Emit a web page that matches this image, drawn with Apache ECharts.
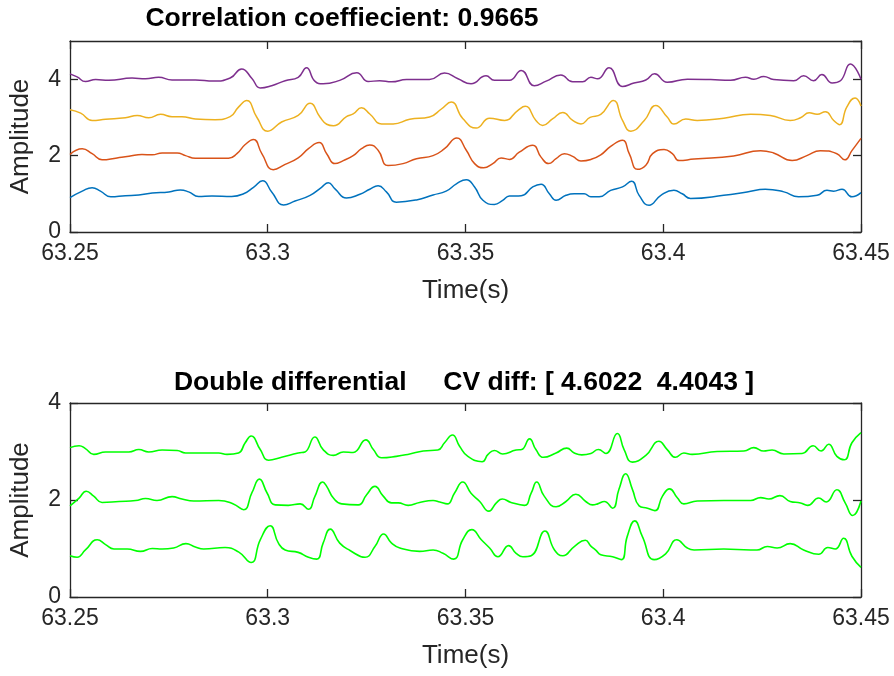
<!DOCTYPE html>
<html>
<head>
<meta charset="utf-8">
<script src="https://cdn.jsdelivr.net/npm/echarts@6/dist/echarts.min.js"></script>
<style>
  html, body { margin: 0; padding: 0; background: #fff; }
  #chart { width: 894px; height: 676px; }
</style>
</head>
<body>
<div id="chart"></div>
<script>
// time axis
const t0 = 63.25            // start of window (s); offsets below are in ms
const tEnd = 63.45
const tStep = 0.05

const topTitle = 'Correlation coeffiecient: 0.9665'
const bottomTitle = 'Double differential     CV diff: [ 4.6022  4.4043 ]'

// top panel: [ms offset, amplitude]
const blueTop = [[0,0.90],[3.1,1.07],[5.6,1.16],[7.7,1.07],[10.3,0.92],[14.0,0.95],[17.4,0.97],[20.8,1.02],[25.0,1.05],[27.9,1.10],[30.0,1.05],[32.5,0.93],[35.9,0.94],[40.9,0.93],[43.9,1.00],[46.4,1.17],[48.7,1.34],[51.0,1.05],[54.0,0.71],[56.9,0.81],[60.7,0.96],[63.6,1.17],[65.3,1.29],[67.0,1.13],[69.9,0.89],[73.3,0.99],[75.8,1.12],[77.9,1.21],[80.0,1.05],[82.5,0.78],[87.6,0.84],[91.8,0.97],[95.1,1.07],[97.7,1.26],[100.2,1.37],[102.3,1.18],[104.4,0.83],[107.3,0.72],[109.4,0.83],[111.1,0.94],[114.1,0.95],[117.0,1.18],[119.1,1.25],[121.2,1.00],[122.9,0.83],[125.4,0.96],[127.5,1.00],[130.0,1.00],[131.7,0.92],[133.8,0.92],[136.7,1.09],[139.7,1.18],[142.0,1.33],[143.9,0.96],[146.4,0.70],[149.4,0.96],[152.7,1.09],[154.8,1.00],[156.9,0.88],[165.3,0.96],[171.2,1.05],[175.8,1.12],[180.5,1.05],[184.2,0.92],[188.9,0.96],[191.4,1.09],[193.1,1.07],[195.2,1.12],[197.7,0.92],[200,1.03]]

const orangeTop = [[0,2.03],[3.1,2.18],[5.6,2.05],[8.1,1.89],[11.9,1.94],[14.9,1.98],[18.2,2.03],[20.8,2.02],[23.3,2.07],[27.1,2.07],[29.2,2.00],[31.7,1.93],[35.9,1.93],[40.1,1.93],[42.2,2.05],[44.3,2.29],[46.4,2.42],[48.5,2.05],[51.4,1.63],[54.4,1.77],[57.7,1.94],[60.3,2.18],[63.0,2.34],[64.9,2.05],[67.0,1.79],[69.1,1.87],[71.6,2.00],[73.7,2.18],[75.8,2.28],[77.9,2.14],[80.4,1.74],[84.2,1.79],[87.6,1.92],[91.8,2.00],[94.7,2.18],[97.8,2.46],[100.2,2.14],[102.3,1.79],[104.6,1.68],[106.9,1.79],[109.0,1.94],[111.1,1.90],[113.6,2.09],[117.0,2.27],[119.1,1.96],[121.0,1.79],[122.9,1.92],[125.0,2.05],[127.1,1.98],[129.2,1.86],[131.7,1.90],[134.2,2.02],[136.7,2.24],[139.7,2.40],[141.4,2.05],[143.5,1.64],[145.6,1.75],[147.3,2.05],[150.2,2.16],[152.3,2.05],[154.0,1.87],[157.8,1.91],[167.8,1.99],[174.6,2.13],[177.9,2.07],[182.6,1.87],[186.3,2.00],[189.7,2.13],[193.9,2.05],[195.9,1.89],[197.7,2.13],[200,2.45]]

const yellowTop = [[0,3.20],[2.7,3.11],[5.6,2.92],[9.0,2.95],[14.0,2.99],[17.0,3.05],[19.9,2.99],[22.9,3.08],[25.8,3.02],[28.3,3.02],[31.7,2.96],[36.7,2.94],[40.5,3.02],[42.6,3.27],[44.7,3.44],[47.2,3.01],[50.0,2.64],[53.5,2.88],[57.7,3.05],[60.7,3.37],[63.2,3.01],[64.9,2.82],[66.6,2.78],[69.9,3.02],[71.6,3.09],[73.7,3.25],[75.8,3.09],[78.8,2.83],[81.7,2.83],[85.9,2.95],[90.9,3.01],[93.9,3.22],[96.4,3.40],[99.3,2.97],[102.7,2.72],[106.1,2.98],[109.9,2.92],[113.2,3.18],[115.1,3.29],[117.8,2.92],[119.5,2.79],[122.0,2.96],[124.6,3.13],[127.1,2.92],[129.2,2.83],[131.5,3.00],[134.2,3.08],[137.4,3.44],[139.7,2.92],[141.8,2.64],[145.2,2.92],[148.1,3.31],[151.0,3.01],[152.7,2.83],[155.7,2.96],[158.6,2.92],[165.3,2.98],[172.1,3.08],[177.1,3.05],[182.1,2.92],[184.7,2.99],[186.9,3.12],[188.9,3.08],[191.0,3.15],[193.1,2.92],[194.6,2.81],[196.4,3.27],[198.5,3.51],[200,3.30]]

const purpleTop = [[0,4.14],[1.8,4.06],[3.9,3.94],[6.5,3.99],[9.8,3.97],[15.7,4.03],[19.1,4.01],[22.4,4.05],[25.8,3.98],[31.7,3.98],[36.3,3.95],[40.5,4.03],[43.4,4.27],[46.0,4.02],[48.1,3.77],[51.0,3.83],[54.4,3.96],[57.7,4.05],[59.8,4.30],[61.9,3.95],[64.0,3.88],[68.2,3.97],[72.5,4.17],[75.4,3.94],[78.3,3.96],[81.3,3.93],[85.1,3.99],[90.9,3.99],[94.7,4.16],[98.1,4.01],[101.4,3.88],[105.2,4.09],[107.3,3.97],[111.1,3.97],[114.1,4.23],[117.4,3.83],[120.4,3.95],[124.1,4.11],[127.1,3.93],[129.6,3.93],[131.7,4.05],[133.4,4.01],[136.3,4.30],[139.7,3.81],[142.6,3.90],[145.6,3.98],[147.8,4.14],[151.0,3.92],[156.1,4.00],[162.0,3.99],[167.0,3.97],[170.8,4.05],[172.9,4.00],[175.4,4.07],[177.9,3.99],[183.0,3.96],[185.5,4.09],[188.0,3.96],[190.1,4.12],[192.7,3.90],[194.8,3.96],[197.3,4.40],[200,4.00]]

// bottom panel (double differential)
const greenLow = [[0,0.85],[1.8,0.82],[3.9,0.97],[6.9,1.18],[9.0,1.08],[11.1,0.99],[14.5,0.99],[17.8,0.94],[20.8,1.00],[23.3,0.99],[26.2,1.01],[29.3,1.10],[31.7,1.03],[33.8,0.99],[39.2,1.02],[42.6,0.93],[45.8,0.71],[48.1,1.18],[50.6,1.47],[52.7,1.11],[54.4,0.97],[57.7,0.92],[60.3,0.82],[62.4,0.78],[64.0,1.11],[65.8,1.40],[68.2,1.11],[70.8,0.96],[74.6,0.82],[77.1,1.04],[79.3,1.30],[81.3,1.11],[83.4,1.01],[88.4,0.94],[91.8,0.97],[94.3,0.90],[97.0,0.78],[99.3,1.18],[101.6,1.39],[104.0,1.18],[106.1,1.01],[108.2,0.83],[110.9,1.06],[112.8,0.90],[114.5,0.83],[116.6,0.85],[120.1,1.36],[122.5,0.97],[124.6,0.85],[127.5,1.04],[130.3,1.17],[131.7,1.05],[133.0,0.96],[134.2,0.87],[137.2,0.83],[139.4,0.77],[140.9,1.25],[142.8,1.57],[144.7,1.25],[147.7,0.77],[150.6,0.89],[153.4,1.18],[156.1,1.01],[157.8,0.97],[165.3,0.99],[172.1,0.97],[173.7,0.97],[176.3,1.04],[178.8,1.01],[182.1,1.10],[185.5,0.97],[189.3,0.88],[191.6,1.02],[193.5,0.99],[195.6,1.21],[197.7,0.84],[200,0.61]]

const greenMid = [[0,1.88],[2.3,2.04],[4.1,2.18],[6.0,2.08],[8.1,1.95],[12.4,1.97],[16.6,1.99],[19.1,2.03],[22.0,1.99],[25.8,2.07],[28.3,2.02],[31.3,1.98],[37.6,1.99],[41.3,1.92],[43.9,1.80],[46.0,2.15],[47.9,2.43],[49.8,2.15],[51.9,1.90],[55.2,1.89],[58.2,1.92],[60.3,1.81],[61.9,2.07],[63.9,2.37],[64.9,2.28],[66.6,2.04],[68.7,1.92],[72.9,1.90],[75.0,2.11],[77.1,2.28],[79.2,2.08],[81.3,1.94],[83.0,1.94],[85.5,1.89],[88.4,1.95],[91.8,1.99],[93.5,1.96],[95.4,1.92],[97.2,2.14],[99.3,2.37],[101.4,2.14],[103.6,1.97],[105.9,1.77],[107.8,1.94],[109.3,2.02],[111.5,1.95],[114.9,1.89],[116.6,2.14],[118.0,2.37],[119.9,2.08],[122.9,1.86],[125.4,1.97],[127.9,2.12],[130.4,1.97],[132.1,1.90],[133.4,1.92],[135.1,1.97],[137.2,1.83],[138.8,2.22],[140.5,2.54],[142.2,2.22],[143.9,1.88],[146.0,1.83],[147.9,1.78],[149.8,2.08],[151.6,2.23],[153.6,2.04],[155.2,1.92],[158.6,1.98],[165.3,1.99],[172.1,1.99],[174.6,2.05],[176.7,2.02],[179.5,2.09],[182.1,1.97],[184.7,1.94],[186.5,1.89],[189.3,2.04],[191.2,1.96],[193.9,2.21],[196.0,1.94],[197.9,1.68],[200,1.98]]

const greenHigh = [[0,3.08],[2.3,3.12],[3.9,3.06],[6.0,2.94],[9.0,2.99],[14.9,2.99],[17.4,3.04],[19.9,2.99],[23.3,3.03],[27.1,3.02],[29.2,2.97],[34.2,2.97],[37.6,2.97],[39.7,2.94],[42.6,2.97],[44.3,3.18],[45.8,3.32],[48.1,3.04],[50.2,2.82],[53.5,2.88],[57.7,2.97],[59.4,2.99],[61.9,3.30],[64.0,3.04],[66.6,2.92],[69.1,2.99],[71.6,2.98],[74.8,3.24],[76.7,3.04],[78.8,2.87],[82.5,2.90],[85.9,2.95],[89.3,3.01],[93.0,3.03],[94.7,3.18],[96.7,3.34],[98.5,3.11],[100.6,2.90],[104.2,2.79],[105.7,2.94],[107.3,3.02],[109.4,2.95],[112.8,3.03],[114.2,3.04],[116.2,3.26],[117.8,3.04],[119.7,2.88],[122.9,2.97],[125.6,3.07],[127.5,2.97],[129.4,2.93],[131.7,2.96],[133.6,3.04],[135.5,2.96],[138.4,3.37],[140.1,3.04],[142.2,2.78],[145.6,2.92],[148.9,3.21],[151.0,3.04],[153.1,2.88],[155.2,2.97],[157.3,2.94],[163.6,3.00],[170.4,3.01],[172.9,3.08],[175.4,3.01],[177.5,3.03],[180.5,2.95],[185.1,2.96],[187.9,3.12],[189.9,3.01],[191.8,3.15],[193.9,2.90],[195.8,2.83],[197.7,3.18],[200,3.39]]

const font = '"Liberation Sans", Arial, sans-serif'
const axisColor = '#262626'

const toTime = arr => arr.map(p => [t0 + p[0] / 1000, p[1]])

function xAxes(gridIndex) {
  const common = {
    type: 'value', gridIndex, min: t0, max: tEnd, interval: tStep,
    axisLine: { show: true, onZero: false, lineStyle: { color: axisColor, width: 1.3 } },
    axisTick: { show: true, inside: true, length: 8, lineStyle: { color: axisColor, width: 1.3 } },
    splitLine: { show: false }
  }
  return [
    Object.assign({}, common, {
      position: 'bottom',
      axisLabel: { margin: 10, fontSize: 23, color: axisColor, fontFamily: font,
        formatter: v => String(+v.toFixed(2)) },
      name: 'Time(s)', nameLocation: 'middle', nameGap: 46,
      nameTextStyle: { fontSize: 26, color: axisColor, fontFamily: font }
    }),
    Object.assign({}, common, { position: 'top', axisLabel: { show: false } })
  ]
}

function yAxes(gridIndex, max) {
  const common = {
    type: 'value', gridIndex, min: 0, max: max, interval: 2,
    axisLine: { show: true, onZero: false, lineStyle: { color: axisColor, width: 1.3 } },
    axisTick: { show: true, inside: true, length: 8, lineStyle: { color: axisColor, width: 1.3 } },
    splitLine: { show: false }
  }
  return [
    Object.assign({}, common, {
      position: 'left',
      axisLabel: { margin: 9, fontSize: 23, color: axisColor, fontFamily: font, showMaxLabel: max % 2 === 0 },
      name: 'Amplitude', nameLocation: 'middle', nameGap: 36,
      nameTextStyle: { fontSize: 26, color: axisColor, fontFamily: font }
    }),
    Object.assign({}, common, { position: 'right', axisLabel: { show: false } })
  ]
}

function line(data, color, xi, yi, width) {
  return {
    type: 'line', data: toTime(data), xAxisIndex: xi, yAxisIndex: yi,
    showSymbol: false, smooth: 0.5, animation: false,
    lineStyle: { color, width }
  }
}

function titleText(text, x, y) {
  return {
    type: 'text', x, y, silent: true,
    style: { text, fill: '#000', font: 'bold 26.5px ' + font,
      textAlign: 'center', textVerticalAlign: 'middle' }
  }
}

const chart = echarts.init(document.getElementById('chart'))
chart.setOption({
  animation: false,
  graphic: [
    titleText(topTitle, 342, 19),
    titleText(bottomTitle, 464, 383)
  ],
  grid: [
    { left: 68, top: 41, width: 793, height: 191 },
    { left: 68, top: 403, width: 793, height: 194 }
  ],
  xAxis: [...xAxes(0), ...xAxes(1)],
  yAxis: [...yAxes(0, 5), ...yAxes(1, 4)],
  series: [
    line(blueTop, '#0072BD', 0, 0, 1.5),
    line(orangeTop, '#D95319', 0, 0, 1.5),
    line(yellowTop, '#EDB120', 0, 0, 1.5),
    line(purpleTop, '#7E2F8E', 0, 0, 1.5),
    line(greenLow, '#00FF00', 2, 2, 1.6),
    line(greenMid, '#00FF00', 2, 2, 1.6),
    line(greenHigh, '#00FF00', 2, 2, 1.6)
  ]
})
</script>
</body>
</html>
